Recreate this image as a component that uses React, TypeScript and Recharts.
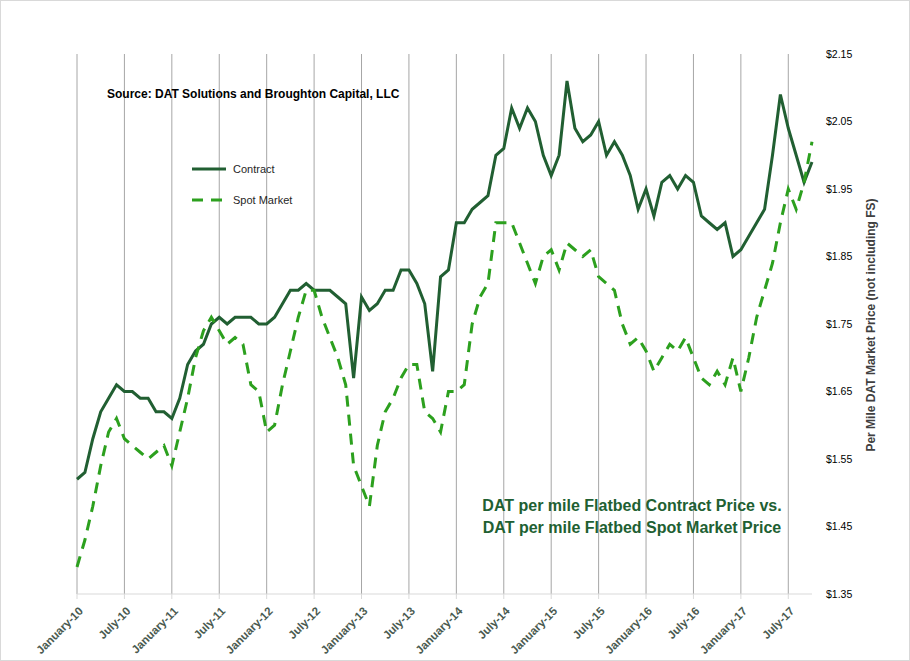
import { LineChart, Line, XAxis, YAxis, CartesianGrid } from "recharts";

const MONTH_NAMES = [
  "January", "February", "March", "April", "May", "June",
  "July", "August", "September", "October", "November", "December",
];

// Jan-10 .. Oct-17, monthly
const months = Array.from({ length: 94 }, (_, i) => `${MONTH_NAMES[i % 12]}-${10 + Math.floor(i / 12)}`);

const contract = [
  1.52, 1.53, 1.58, 1.62, 1.64, 1.66, 1.65, 1.65, 1.64, 1.64, 1.62, 1.62,
  1.61, 1.64, 1.69, 1.71, 1.72, 1.75, 1.76, 1.75, 1.76, 1.76, 1.76, 1.75,
  1.75, 1.76, 1.78, 1.80, 1.80, 1.81, 1.80, 1.80, 1.80, 1.79, 1.78, 1.67,
  1.79, 1.77, 1.78, 1.80, 1.80, 1.83, 1.83, 1.81, 1.78, 1.68, 1.82, 1.83,
  1.90, 1.90, 1.92, 1.93, 1.94, 2.00, 2.01, 2.07, 2.04, 2.07, 2.05, 2.00,
  1.97, 2.00, 2.11, 2.04, 2.02, 2.03, 2.05, 2.00, 2.02, 2.00, 1.97, 1.92,
  1.95, 1.91, 1.96, 1.97, 1.95, 1.97, 1.96, 1.91, 1.90, 1.89, 1.90, 1.85,
  1.86, 1.88, 1.90, 1.92, 2.00, 2.09, 2.04, 2.00, 1.96, 1.99,
];

const spot = [
  1.39, 1.43, 1.48, 1.54, 1.59, 1.61, 1.58, 1.57, 1.56, 1.55, 1.56, 1.57,
  1.54, 1.59, 1.64, 1.70, 1.74, 1.76, 1.74, 1.72, 1.73, 1.72, 1.66, 1.65,
  1.59, 1.60, 1.66, 1.71, 1.76, 1.80, 1.80, 1.76, 1.73, 1.70, 1.66, 1.54,
  1.51, 1.48, 1.57, 1.62, 1.64, 1.67, 1.69, 1.69, 1.62, 1.61, 1.59, 1.65,
  1.65, 1.66, 1.75, 1.79, 1.81, 1.90, 1.90, 1.90, 1.87, 1.84, 1.81, 1.85,
  1.86, 1.83, 1.87, 1.86, 1.85, 1.86, 1.82, 1.81, 1.80, 1.75, 1.72, 1.73,
  1.71, 1.68, 1.70, 1.72, 1.71, 1.73, 1.70, 1.67, 1.66, 1.68, 1.66, 1.70,
  1.65, 1.70, 1.76, 1.80, 1.84, 1.90, 1.95, 1.92, 1.96, 2.02,
];

const priceTicks = [1.35, 1.45, 1.55, 1.65, 1.75, 1.85, 1.95, 2.05, 2.15];

const data = months.map((month, i) => ({ month, contract: contract[i], spot: spot[i] }));

const FONT = "'Liberation Sans', Arial, sans-serif";
const DARK_GREEN = "#215f32";
const LIGHT_GREEN = "#2ca01e";

function MonthTick({ x, y, payload }: any) {
  const tx = x + 4;
  const ty = y + 8;
  return (
    <text
      x={tx}
      y={ty}
      transform={`rotate(-45, ${tx}, ${ty})`}
      textAnchor="end"
      dominantBaseline="central"
      fontFamily={FONT}
      fontSize={11.5}
      fontWeight="bold"
      fill="#4a5a50"
    >
      {payload.value}
    </text>
  );
}

function ChartLegend() {
  const rows = [
    { name: "Contract", dash: undefined, color: DARK_GREEN },
    { name: "Spot Market", dash: "11 8", color: LIGHT_GREEN },
  ];
  return (
    <div style={{ position: "absolute", left: 191, top: 152, fontFamily: FONT, fontSize: 11, color: "#262626" }}>
      {rows.map((r) => (
        <div key={r.name} style={{ display: "flex", alignItems: "center", height: 31 }}>
          <svg width={41} height={8}>
            <line x1={0} y1={4} x2={34} y2={4} stroke={r.color} strokeWidth={3} strokeDasharray={r.dash} />
          </svg>
          <span>{r.name}</span>
        </div>
      ))}
    </div>
  );
}

export default function App() {
  return (
    <div
      style={{
        position: "absolute",
        left: 0,
        top: 0,
        width: 910,
        height: 661,
        boxSizing: "border-box",
        border: "1px solid #d9d9d9",
        background: "#fff",
      }}
    >
      <div style={{ position: "absolute", left: -1, top: -1 }}>
        <LineChart width={910} height={661} data={data} margin={{ top: 54, right: 0, left: 77, bottom: 0 }}>
          <CartesianGrid horizontal={false} stroke="#a6a6a6" syncWithTicks />
          <XAxis
            dataKey="month"
            interval={5}
            height={67}
            stroke="#d9d9d9"
            tickSize={5}
            tick={<MonthTick />}
          />
          <YAxis
            orientation="right"
            width={98}
            domain={[1.35, 2.15]}
            ticks={priceTicks}
            axisLine={false}
            tickLine={false}
            tickMargin={8}
            tickFormatter={(v: number) => `$${v.toFixed(2)}`}
            tick={{ fontFamily: FONT, fontSize: 10.5, fill: "#000" }}
          />
          <Line
            dataKey="contract"
            name="Contract"
            stroke={DARK_GREEN}
            strokeWidth={3}
            dot={false}
            isAnimationActive={false}
          />
          <Line
            dataKey="spot"
            name="Spot Market"
            stroke={LIGHT_GREEN}
            strokeWidth={3}
            strokeDasharray="11 8"
            dot={false}
            isAnimationActive={false}
          />
        </LineChart>
      </div>
      <ChartLegend />
      <div
        style={{
          position: "absolute",
          left: 106,
          top: 86,
          fontFamily: FONT,
          fontSize: 12,
          fontWeight: "bold",
          color: "#000",
          whiteSpace: "nowrap",
        }}
      >
        Source: DAT Solutions and Broughton Capital, LLC
      </div>
      <div
        style={{
          position: "absolute",
          left: 431,
          top: 494,
          width: 400,
          textAlign: "center",
          fontFamily: FONT,
          fontSize: 16,
          fontWeight: "bold",
          color: DARK_GREEN,
          lineHeight: "22px",
          whiteSpace: "nowrap",
        }}
      >
        DAT per mile Flatbed Contract Price vs.
        <br />
        DAT per mile Flatbed Spot Market Price
      </div>
      <div
        style={{
          position: "absolute",
          left: 870 - 150,
          top: 324 - 8,
          width: 300,
          textAlign: "center",
          transform: "rotate(-90deg)",
          transformOrigin: "150px 8px",
          fontFamily: FONT,
          fontSize: 12,
          fontWeight: "bold",
          color: "#404040",
          lineHeight: "16px",
          whiteSpace: "nowrap",
        }}
      >
        Per Mile DAT Market Price (not including FS)
      </div>
    </div>
  );
}
